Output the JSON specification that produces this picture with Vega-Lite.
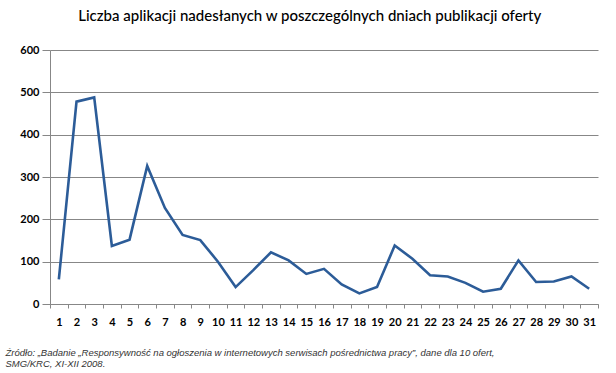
{
  "$schema": "https://vega.github.io/schema/vega-lite/v6.json",
  "autosize": "none",
  "width": 548,
  "height": 254,
  "padding": {"left": 50, "top": 50, "right": 18, "bottom": 69},
  "background": "white",
  "title": {
    "text": "Liczba aplikacji nadesłanych w poszczególnych dniach publikacji oferty",
    "anchor": "middle",
    "frame": "bounds",
    "font": "Lato",
    "fontSize": 15,
    "fontWeight": 500,
    "color": "#000000",
    "dx": 8,
    "offset": 20
  },
  "data": {
    "values": [
      {"dzien": "1", "aplikacje": 58},
      {"dzien": "2", "aplikacje": 478},
      {"dzien": "3", "aplikacje": 488},
      {"dzien": "4", "aplikacje": 137},
      {"dzien": "5", "aplikacje": 152},
      {"dzien": "6", "aplikacje": 326},
      {"dzien": "7", "aplikacje": 227},
      {"dzien": "8", "aplikacje": 163},
      {"dzien": "9", "aplikacje": 151},
      {"dzien": "10", "aplikacje": 100},
      {"dzien": "11", "aplikacje": 40},
      {"dzien": "12", "aplikacje": 80},
      {"dzien": "13", "aplikacje": 122},
      {"dzien": "14", "aplikacje": 103},
      {"dzien": "15", "aplikacje": 71},
      {"dzien": "16", "aplikacje": 83},
      {"dzien": "17", "aplikacje": 46},
      {"dzien": "18", "aplikacje": 25},
      {"dzien": "19", "aplikacje": 40},
      {"dzien": "20", "aplikacje": 138},
      {"dzien": "21", "aplikacje": 107},
      {"dzien": "22", "aplikacje": 68},
      {"dzien": "23", "aplikacje": 65},
      {"dzien": "24", "aplikacje": 50},
      {"dzien": "25", "aplikacje": 29},
      {"dzien": "26", "aplikacje": 36},
      {"dzien": "27", "aplikacje": 103},
      {"dzien": "28", "aplikacje": 52},
      {"dzien": "29", "aplikacje": 53},
      {"dzien": "30", "aplikacje": 65},
      {"dzien": "31", "aplikacje": 36}
    ]
  },
  "mark": {"type": "line", "color": "#2C5C98", "strokeWidth": 2.6, "strokeJoin": "miter"},
  "encoding": {
    "x": {
      "field": "dzien",
      "type": "ordinal",
      "sort": null,
      "scale": {"type": "band", "paddingInner": 0, "paddingOuter": 0},
      "axis": {
        "title": ["Źródło: „Badanie „Responsywność na ogłoszenia w internetowych serwisach pośrednictwa pracy”, dane dla 10 ofert,", "SMG/KRC, XI-XII 2008."],
        "titleFont": "Liberation Sans",
        "titleFontStyle": "italic",
        "titleFontWeight": "normal",
        "titleFontSize": 9.5,
        "titleColor": "#333333",
        "titleAnchor": "start",
        "titleAlign": "left",
        "titleBaseline": "top",
        "titleLineHeight": 11,
        "titleX": -45,
        "titleY": 43,
        "labelAngle": 0,
        "labelFont": "Lato",
        "labelFontSize": 11,
        "labelFontWeight": "bold",
        "labelColor": "#000000",
        "labelPadding": 8,
        "tickBand": "extent",
        "tickSize": 4,
        "tickColor": "#878787",
        "domainColor": "#878787",
        "grid": false
      }
    },
    "y": {
      "field": "aplikacje",
      "type": "quantitative",
      "scale": {"domain": [0, 600], "nice": false},
      "axis": {
        "title": null,
        "values": [0, 100, 200, 300, 400, 500, 600],
        "labelFont": "Lato",
        "labelFontSize": 11,
        "labelFontWeight": "bold",
        "labelColor": "#000000",
        "labelPadding": 3,
        "tickSize": 8,
        "tickColor": "#878787",
        "domainColor": "#878787",
        "grid": true,
        "gridColor": "#878787"
      }
    }
  },
  "config": {"view": {"stroke": null}}
}
